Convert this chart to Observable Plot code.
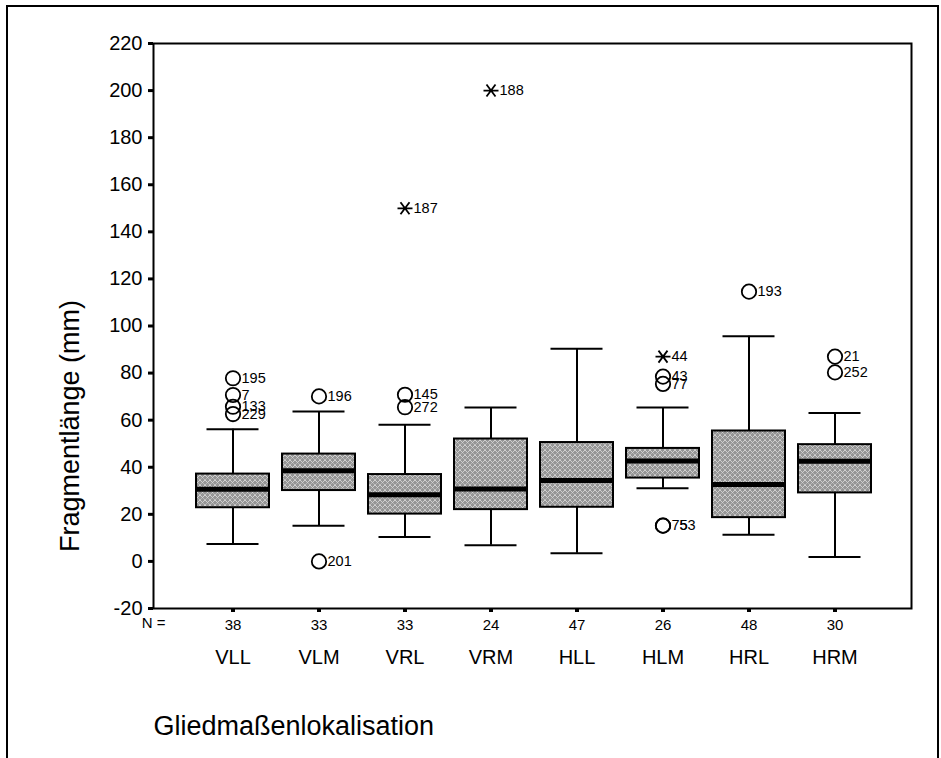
<!DOCTYPE html>
<html>
<head>
<meta charset="utf-8">
<script src="https://cdn.jsdelivr.net/npm/d3@7"></script>
<script src="https://cdn.jsdelivr.net/npm/@observablehq/plot@0.6"></script>
<style>
  html, body { margin: 0; padding: 0; background: #fff; overflow: hidden; }
  #wrap { position: relative; width: 941px; height: 758px; }
  #border { position: absolute; left: 6px; top: 5px; width: 933px; height: 820px;
            border: 2px solid #000; box-sizing: border-box; pointer-events: none; }
</style>
</head>
<body>
<div id="wrap"><div id="border"></div></div>
<script>
// Fragment length by limb localisation (box plot with outliers and extremes)
const groups      = ["VLL", "VLM", "VRL", "VRM", "HLL", "HLM", "HRL", "HRM"];
const counts      = [38, 33, 33, 24, 47, 26, 48, 30];
const whiskerLow  = [7.4, 15.2, 10.4, 6.9, 3.5, 31.1, 11.3, 1.9];
const quartile1   = [22.8, 30.1, 20.1, 22.0, 23.0, 35.4, 18.6, 29.1];
const medians     = [30.7, 38.5, 28.3, 30.8, 34.4, 42.7, 32.7, 42.5];
const quartile3   = [37.1, 45.6, 36.9, 52.0, 50.5, 48.0, 55.4, 49.6];
const whiskerHigh = [56.1, 63.7, 58.1, 65.4, 90.3, 65.4, 95.6, 63.0];

// Outliers (circles) with their case numbers
const outlierGroup = ["VLL", "VLL", "VLL", "VLL", "VLM", "VLM", "VRL", "VRL", "HLM", "HLM", "HLM", "HLM", "HRL", "HRM", "HRM"];
const outlierValue = [77.8, 70.7, 65.7, 62.6, 70.1, 0, 70.8, 65.5, 78.5, 75.4, 15.2, 15.2, 114.6, 87.0, 80.3];
const outlierCase  = ["195", "7", "133", "229", "196", "201", "145", "272", "43", "77", "75", "53", "193", "21", "252"];

// Extreme values (stars) with their case numbers
const extremeGroup = ["VRL", "VRM", "HLM"];
const extremeValue = [150, 200, 87];
const extremeCase  = ["187", "188", "44"];

const yTicks = d3.range(-20, 221, 20);

const boxes = groups.map((g, i) => ({
  group: g, lo: whiskerLow[i], q1: quartile1[i], med: medians[i], q3: quartile3[i], hi: whiskerHigh[i]
}));

// cases sharing the same position: each further label is pushed one digit to the right
const seen = new Map();
const outliers = outlierGroup.map((g, i) => {
  const key = g + "|" + outlierValue[i];
  const k = seen.get(key) || 0;
  seen.set(key, k + 1);
  return {group: g, value: outlierValue[i], label: outlierCase[i], shift: k};
});
const extremes = extremeGroup.map((g, i) => ({group: g, value: extremeValue[i], label: extremeCase[i]}));

// star: horizontal stroke crossed by an X
const star = {
  draw(context, size) {
    const r = Math.sqrt(size / Math.PI);
    context.moveTo(-r, 0); context.lineTo(r, 0);
    context.moveTo(-r * 0.6, -r * 0.8); context.lineTo(r * 0.6, r * 0.8);
    context.moveTo(-r * 0.6, r * 0.8); context.lineTo(r * 0.6, -r * 0.8);
  }
};

const font = "'Liberation Sans', Arial, sans-serif";

const chart = Plot.plot({
  width: 941,
  height: 758,
  marginLeft: 153,
  marginRight: 30,
  marginTop: 43,
  marginBottom: 150,
  style: {fontFamily: font, fontSize: "14px", color: "#000", background: "transparent"},
  x: {type: "band", domain: groups, range: [179, 888], padding: 13 / 87, axis: null},
  y: {domain: [-20, 220], axis: null},
  marks: [
    Plot.frame({stroke: "#000", strokeWidth: 2}),
    Plot.axisY({ticks: yTicks, tickSize: 5, tickPadding: 6, strokeWidth: 3, fontSize: 20, label: null,
                tickFormat: (d) => String(d)}),
    Plot.axisX({tickSize: 4, tickPadding: 7, strokeWidth: 4, fontSize: 15, label: null,
                tickFormat: (d) => String(counts[groups.indexOf(d)])}),
    Plot.text(["N ="], {frameAnchor: "bottom-left", textAnchor: "middle", dy: 19, fontSize: 15}),
    Plot.text(groups, {x: (d) => d, frameAnchor: "bottom", dy: 55, fontSize: 20}),
    Plot.text(["Fragmentlänge (mm)"], {frameAnchor: "left", textAnchor: "middle", dx: -83, dy: 100, rotate: -90, fontSize: 27}),
    Plot.text(["Gliedmaßenlokalisation"], {frameAnchor: "bottom-left", dy: 126, textAnchor: "start", fontSize: 27}),
    // whiskers
    Plot.ruleX(boxes, {x: "group", y1: "q3", y2: "hi", stroke: "#000", strokeWidth: 2}),
    Plot.ruleX(boxes, {x: "group", y1: "lo", y2: "q1", stroke: "#000", strokeWidth: 2}),
    Plot.tickY(boxes, {x: "group", y: "hi", stroke: "#000", strokeWidth: 2, insetLeft: 10.5, insetRight: 10.5}),
    Plot.tickY(boxes, {x: "group", y: "lo", stroke: "#000", strokeWidth: 2, insetLeft: 10.5, insetRight: 10.5}),
    // boxes
    Plot.barY(boxes, {x: "group", y1: "q1", y2: "q3", fill: "url(#hatch)", stroke: "#000", strokeWidth: 2}),
    Plot.tickY(boxes, {x: "group", y: "med", stroke: "#000", strokeWidth: 5}),
    // outliers
    Plot.dot(outliers, {x: "group", y: "value", r: 7.2, stroke: "#000", strokeWidth: 1.8, fill: "none"}),
    Plot.text(outliers.filter((d) => d.shift === 0), {x: "group", y: "value", text: "label", dx: 8.5, textAnchor: "start", fontSize: 14.5}),
    Plot.text(outliers.filter((d) => d.shift > 0), {x: "group", y: "value", text: "label", dx: 16.5, textAnchor: "start", fontSize: 14.5}),
    // extremes
    Plot.dot(extremes, {x: "group", y: "value", r: 7.5, symbol: star, stroke: "#000", strokeWidth: 1.8, fill: "none"}),
    Plot.text(extremes, {x: "group", y: "value", text: "label", dx: 8.5, textAnchor: "start", fontSize: 14.5})
  ]
});

// crosshatch fill for the boxes
const svg = d3.select(chart);
const defs = svg.insert("defs", ":first-child");
const pat = defs.append("pattern")
  .attr("id", "hatch").attr("patternUnits", "userSpaceOnUse")
  .attr("width", 5).attr("height", 5);
pat.append("rect").attr("width", 5).attr("height", 5).attr("fill", "#959595");
pat.append("path").attr("d", "M0,0L5,5M5,0L0,5")
  .attr("stroke", "#f2f2f2").attr("stroke-width", 0.9).attr("stroke-dasharray", "1,0.8");

document.getElementById("wrap").prepend(chart);
</script>
</body>
</html>
